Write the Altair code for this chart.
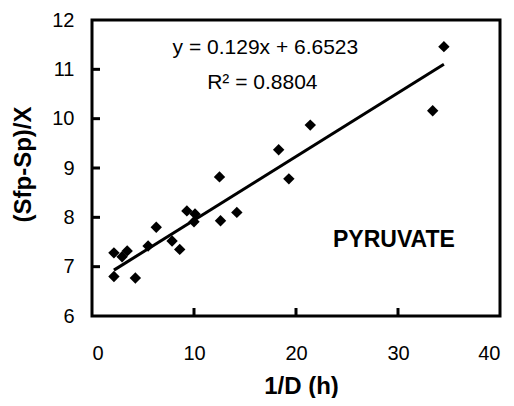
import altair as alt
import pandas as pd

# data
inv_d = [2.15, 2.15, 2.95, 3.45, 4.25, 5.5, 6.3, 7.85, 8.6, 9.3, 10.1, 10.0,
         12.5, 12.6, 14.2, 18.3, 19.3, 21.4, 33.4, 34.5]
ratio = [6.80, 7.28, 7.20, 7.32, 6.77, 7.42, 7.80, 7.52, 7.35, 8.13, 8.07, 7.91,
         8.82, 7.93, 8.10, 9.37, 8.78, 9.87, 10.16, 11.46]

slope = 0.129
intercept = 6.6523
fit_x = [min(inv_d), max(inv_d)]

x_ticks = [0, 10, 20, 30, 40]
y_ticks = [6, 7, 8, 9, 10, 11, 12]
x_inner_ticks = [10, 20, 30]
y_inner_ticks = [7, 8, 9, 10, 11]

eq_text = "y = 0.129x + 6.6523"
r2_text = "R\u00b2 = 0.8804"
label_text = "PYRUVATE"

FONT = "Liberation Sans"
W, H = 408, 296

pts = pd.DataFrame({"x": inv_d, "y": ratio})
fit = pd.DataFrame({"x": fit_x})

xs = alt.Scale(domain=[0, 40], nice=False, zero=False)
ys = alt.Scale(domain=[6, 12], nice=False, zero=False)

xaxis = alt.Axis(values=x_ticks, title="1/D (h)", grid=False, ticks=False, domain=False,
                 labelPadding=27, labelFontSize=20, labelFont=FONT, labelColor="black",
                 titleFont=FONT, titleFontSize=24, titleFontWeight="bold", titleColor="black",
                 titleX=209, titleY=70, titleBaseline="middle", titleAnchor="start", titleAlign="center")
yaxis = alt.Axis(values=y_ticks, title="(Sfp-Sp)/X", grid=False, ticks=False, domain=False,
                 labelPadding=18, labelFontSize=20, labelFont=FONT, labelColor="black",
                 titleFont=FONT, titleFontSize=24, titleFontWeight="bold", titleColor="black",
                 titleX=-69, titleY=144, titleAngle=270, titleBaseline="middle", titleAlign="center")

points = alt.Chart(pts).mark_point(shape="diamond", filled=True, color="black",
                                   size=130, opacity=1).encode(
    x=alt.X("x:Q", scale=xs, axis=xaxis),
    y=alt.Y("y:Q", scale=ys, axis=yaxis),
)

line = alt.Chart(fit).transform_calculate(
    y=f"{slope} * datum.x + {intercept}"
).mark_line(color="black", strokeWidth=3).encode(
    x=alt.X("x:Q", scale=xs), y=alt.Y("y:Q", scale=ys))

yt = alt.Chart(pd.DataFrame({"v": y_inner_ticks})).mark_rule(color="black", strokeWidth=3).encode(
    y=alt.Y("v:Q", scale=ys), x=alt.value(0), x2=alt.value(8))
xt = alt.Chart(pd.DataFrame({"v": x_inner_ticks})).mark_rule(color="black", strokeWidth=3).encode(
    x=alt.X("v:Q", scale=xs), y=alt.value(H), y2=alt.value(H - 8))

eq = alt.Chart(pd.DataFrame({"x": [17.0], "y": [11.31], "t": [eq_text]})).mark_text(
    font=FONT, fontSize=21, color="black", align="center", baseline="alphabetic").encode(
    x=alt.X("x:Q", scale=xs), y=alt.Y("y:Q", scale=ys), text="t:N")
r2 = alt.Chart(pd.DataFrame({"x": [16.7], "y": [10.60], "t": [r2_text]})).mark_text(
    font=FONT, fontSize=21, color="black", align="center", baseline="alphabetic").encode(
    x=alt.X("x:Q", scale=xs), y=alt.Y("y:Q", scale=ys), text="t:N")
lab = alt.Chart(pd.DataFrame({"x": [29.6], "y": [7.40], "t": [label_text]})).mark_text(
    font=FONT, fontSize=23, fontWeight="bold", color="black", align="center",
    baseline="alphabetic").encode(
    x=alt.X("x:Q", scale=xs), y=alt.Y("y:Q", scale=ys), text="t:N")

chart = alt.layer(line, points, yt, xt, eq, r2, lab).properties(
    width=W, height=H,
    autosize=alt.AutoSizeParams(type="none"),
    padding={"left": 84, "top": 12, "right": 6, "bottom": 82},
    background="white",
).configure_view(stroke="black", strokeWidth=3)

chart.save("out.html", embed_options={"renderer": "svg", "actions": False})
